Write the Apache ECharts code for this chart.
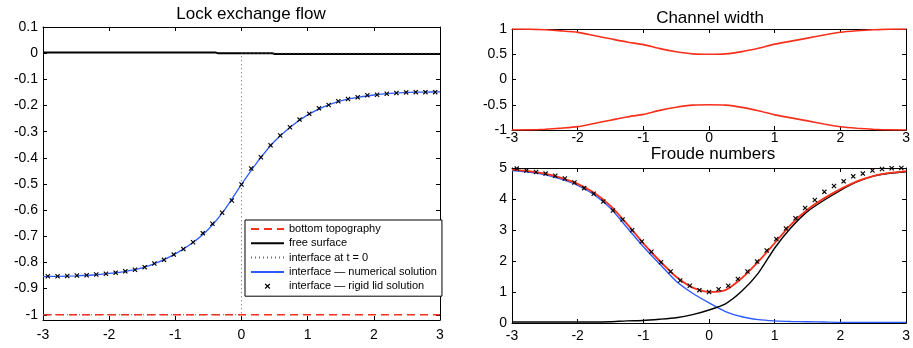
<!DOCTYPE html>
<html>
<head>
<meta charset="utf-8">
<script src="https://cdn.jsdelivr.net/npm/echarts@6/dist/echarts.min.js"></script>
<style>
html,body{margin:0;padding:0;background:#fff;}
#c{width:913px;height:348px;}
</style>
</head>
<body>
<div id="c"></div>
<script>
// ---------- data ----------
const xTicks = [-3, -2, -1, 0, 1, 2, 3];
const lockYTicks = [0.1, 0, -0.1, -0.2, -0.3, -0.4, -0.5, -0.6, -0.7, -0.8, -0.9, -1];
const chanYTicks = [1, 0.5, 0, -0.5, -1];
const froudeYTicks = [0, 1, 2, 3, 4, 5];

const gridX = [-3, -2.75, -2.5, -2.25, -2, -1.75, -1.5, -1.25, -1, -0.75, -0.5, -0.25, 0,
               0.25, 0.5, 0.75, 1, 1.25, 1.5, 1.75, 2, 2.25, 2.5, 2.75, 3];

// Lock exchange flow
const bottomX = [-3, 3];
const bottomY = [-1, -1];
const freeSurfX = [-3, -0.4, -0.36, 0.46, 0.5, 3];
const freeSurfY = [0.003, 0.003, 0.0, 0.0, -0.003, -0.003];
const initX = [-3, 0, 0, 3];
const initY = [-1, -1, 0, 0];
const interfaceNum = [-0.854, -0.853, -0.851, -0.848, -0.842, -0.834, -0.821, -0.798, -0.767, -0.727,
                      -0.673, -0.597, -0.502, -0.413, -0.337, -0.280, -0.236, -0.204, -0.182, -0.169,
                      -0.160, -0.154, -0.150, -0.149, -0.148];
const rigidX = [-2.927, -2.780, -2.634, -2.488, -2.341, -2.195, -2.049, -1.902, -1.756, -1.610,
                -1.463, -1.317, -1.171, -1.024, -0.878, -0.732, -0.585, -0.439, -0.293, -0.146,
                0, 0.146, 0.293, 0.439, 0.585, 0.732, 0.878, 1.024, 1.171, 1.317,
                1.463, 1.610, 1.756, 1.902, 2.049, 2.195, 2.341, 2.488, 2.634, 2.780, 2.927];
const rigidY = [-0.853, -0.853, -0.852, -0.850, -0.849, -0.846, -0.843, -0.839, -0.834, -0.828,
                -0.818, -0.804, -0.790, -0.770, -0.749, -0.723, -0.688, -0.652, -0.610, -0.563,
                -0.502, -0.441, -0.398, -0.352, -0.315, -0.283, -0.254, -0.232, -0.211, -0.198,
                -0.184, -0.175, -0.169, -0.161, -0.159, -0.155, -0.152, -0.150, -0.149, -0.149, -0.149];

// Channel width
const chanUpper = [1.000, 0.998, 0.985, 0.962, 0.933, 0.870, 0.806, 0.742, 0.690, 0.612, 0.550, 0.508, 0.500,
                   0.508, 0.552, 0.620, 0.700, 0.760, 0.820, 0.880, 0.935, 0.965, 0.985, 0.998, 1.000];
const chanLower = [-1.000, -0.998, -0.985, -0.962, -0.933, -0.870, -0.806, -0.742, -0.690, -0.612, -0.550, -0.508, -0.500,
                   -0.508, -0.552, -0.620, -0.700, -0.760, -0.820, -0.880, -0.935, -0.965, -0.985, -0.998, -1.000];

// Froude numbers
const froudeRed = [4.95, 4.90, 4.82, 4.68, 4.49, 4.20, 3.78, 3.20, 2.57, 2.00, 1.49, 1.14, 1.00,
                   1.06, 1.45, 1.98, 2.58, 3.18, 3.66, 4.02, 4.32, 4.57, 4.74, 4.84, 4.90];
const froudeBlue = [4.92, 4.87, 4.79, 4.64, 4.44, 4.14, 3.70, 3.08, 2.46, 1.90, 1.35, 0.96, 0.65,
                    0.37, 0.20, 0.11, 0.07, 0.05, 0.04, 0.03, 0.02, 0.02, 0.02, 0.02, 0.02];
const froudeBlack = [0.03, 0.03, 0.03, 0.03, 0.03, 0.03, 0.04, 0.07, 0.08, 0.12, 0.17, 0.27, 0.42,
                     0.62, 1.03, 1.61, 2.42, 3.08, 3.60, 3.96, 4.28, 4.55, 4.74, 4.83, 4.88];
const froudeMarks = [4.98, 4.92, 4.87, 4.82, 4.75, 4.66, 4.53, 4.35, 4.17, 3.92,
                     3.63, 3.34, 2.99, 2.63, 2.30, 1.96, 1.66, 1.37, 1.20, 1.06,
                     1.00, 1.09, 1.20, 1.42, 1.66, 1.98, 2.34, 2.71, 3.05, 3.38,
                     3.71, 3.97, 4.23, 4.42, 4.57, 4.73, 4.82, 4.92, 4.97, 4.99, 5.00];

// ---------- helpers ----------
const FONT = 'Liberation Sans, Arial, Helvetica, sans-serif';
const RED = '#f7301c', BLUE = '#2d5bff', BLACK = '#000';
const XMARK = 'path://M0,1.6L1.6,0L5,3.4L8.4,0L10,1.6L6.6,5L10,8.4L8.4,10L5,6.6L1.6,10L0,8.4L3.4,5Z';

function pairs(xs, ys) { return xs.map((x, i) => [x, ys[i]]); }
function fmt(v) { return String(Math.round(v * 100) / 100); }

function xAx(grid, pos, showLabel, margin) {
  return {
    type: 'value', gridIndex: grid, position: pos, min: -3, max: 3, interval: 1,
    axisLine: { show: true, onZero: false, lineStyle: { color: '#000', width: 1 } },
    axisTick: { show: true, inside: true, length: 4, lineStyle: { color: '#000' } },
    axisLabel: { show: showLabel, margin: margin, color: '#000', fontSize: 14, fontFamily: FONT, formatter: fmt },
    splitLine: { show: false }
  };
}
function yAx(grid, pos, showLabel, min, max, ticks) {
  return {
    type: 'value', gridIndex: grid, position: pos, min: min, max: max,
    axisLine: { show: true, onZero: false, lineStyle: { color: '#000', width: 1 } },
    axisTick: { show: true, inside: true, length: 4, customValues: ticks, lineStyle: { color: '#000' } },
    axisLabel: { show: showLabel, margin: 5, color: '#000', fontSize: 14, fontFamily: FONT,
                 customValues: ticks, formatter: fmt },
    splitLine: { show: false }
  };
}
function line(name, xi, yi, data, color, width, type, z, smooth) {
  return {
    name: name, type: 'line', xAxisIndex: xi, yAxisIndex: yi, data: data,
    symbol: 'none', showSymbol: false, silent: true, z: z || 2,
    smooth: smooth || false,
    itemStyle: { color: color },
    lineStyle: { color: color, width: width, type: type || 'solid' }
  };
}
function marks(name, xi, yi, data, z) {
  return {
    name: name, type: 'line', xAxisIndex: xi, yAxisIndex: yi, data: data,
    symbol: XMARK, symbolSize: 5, showSymbol: true, silent: true, z: z || 5,
    itemStyle: { color: '#000' },
    lineStyle: { color: 'rgba(0,0,0,0)', width: 0 }
  };
}
const noSym = { color: 'rgba(0,0,0,0)', opacity: 0, borderWidth: 0 };

// ---------- chart ----------
const chart = echarts.init(document.getElementById('c'), null, { renderer: 'canvas' });
chart.setOption({
  animation: false,
  backgroundColor: '#fff',
  title: [
    { text: 'Lock exchange flow', left: 251, top: 6, textAlign: 'center', padding: 0,
      textStyle: { fontSize: 17, fontWeight: 'normal', color: '#000', fontFamily: FONT } },
    { text: 'Channel width', left: 710, top: 10, textAlign: 'center', padding: 0,
      textStyle: { fontSize: 17, fontWeight: 'normal', color: '#000', fontFamily: FONT } },
    { text: 'Froude numbers', left: 713, top: 146, textAlign: 'center', padding: 0,
      textStyle: { fontSize: 17, fontWeight: 'normal', color: '#000', fontFamily: FONT } }
  ],
  legend: {
    data: [
      { name: 'bottom topography', itemStyle: noSym },
      { name: 'free surface', itemStyle: noSym },
      { name: 'interface at t = 0', itemStyle: noSym },
      { name: 'interface \u2014 numerical solution', itemStyle: noSym },
      { name: 'interface \u2014 rigid lid solution' }
    ],
    orient: 'vertical', left: 245, top: 220,
    itemWidth: 33, itemHeight: 7, itemGap: 0.3,
    padding: [2, 5, 3, 5],
    backgroundColor: '#fff', borderColor: '#000', borderWidth: 1, borderRadius: 0,
    selectedMode: false,
    textStyle: { fontSize: 11, lineHeight: 14, color: '#000', fontFamily: FONT }
  },
  grid: [
    { left: 43, top: 27, width: 397, height: 293 },
    { left: 512, top: 29, width: 395, height: 101 },
    { left: 512, top: 168, width: 395, height: 155 }
  ],
  xAxis: [
    xAx(0, 'bottom', true, 8), xAx(0, 'top', false, 8),
    xAx(1, 'bottom', true, 1), xAx(1, 'top', false, 8),
    xAx(2, 'bottom', true, 6), xAx(2, 'top', false, 8)
  ],
  yAxis: [
    yAx(0, 'left', true, -1.02, 0.1, lockYTicks), yAx(0, 'right', false, -1.02, 0.1, lockYTicks),
    yAx(1, 'left', true, -1, 1, chanYTicks), yAx(1, 'right', false, -1, 1, chanYTicks),
    yAx(2, 'left', true, 0, 5, froudeYTicks), yAx(2, 'right', false, 0, 5, froudeYTicks)
  ],
  series: [
    line('bottom topography', 0, 0, pairs(bottomX, bottomY), RED, 1.5, [8, 5], 2),
    line('free surface', 0, 0, pairs(freeSurfX, freeSurfY), BLACK, 2, 'solid', 3),
    line('interface at t = 0', 0, 0, pairs(initX, initY), '#666', 1, [1, 3], 4),
    line('interface \u2014 numerical solution', 0, 0, pairs(gridX, interfaceNum), BLUE, 1.3, 'solid', 5, 0.2),
    marks('interface \u2014 rigid lid solution', 0, 0, pairs(rigidX, rigidY), 6),

    line('width upper', 2, 2, pairs(gridX, chanUpper), RED, 1.6, 'solid', 3, 0.2),
    line('width lower', 2, 2, pairs(gridX, chanLower), RED, 1.6, 'solid', 3, 0.2),

    line('Fr blue', 4, 4, pairs(gridX, froudeBlue), BLUE, 1.4, 'solid', 3, 0.2),
    line('Fr black', 4, 4, pairs(gridX, froudeBlack), BLACK, 1.4, 'solid', 4, 0.2),
    line('Fr red', 4, 4, pairs(gridX, froudeRed), RED, 1.8, 'solid', 5, 0.2),
    marks('Fr marks', 4, 4, pairs(rigidX, froudeMarks), 6)
  ]
});
</script>
</body>
</html>
